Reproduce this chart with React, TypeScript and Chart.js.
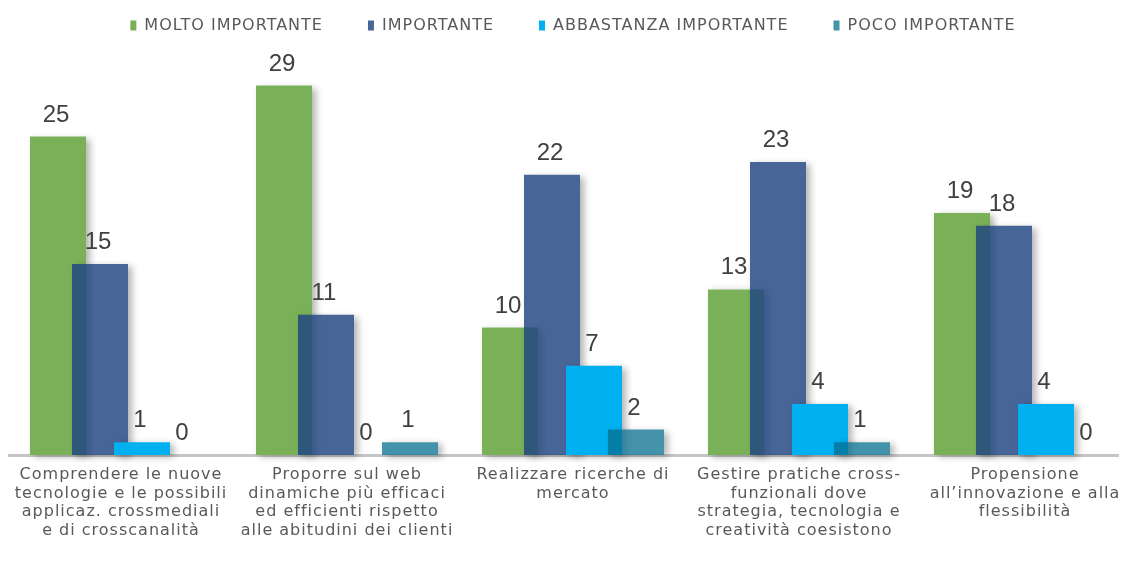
import React, { useEffect, useRef } from "react";
import { Chart, registerables } from "chart.js";

Chart.register(...registerables);

const categories: string[][] = [
  ["Comprendere le nuove", "tecnologie e le possibili", "applicaz. crossmediali", "e di crosscanalità"],
  ["Proporre sul web", "dinamiche più efficaci", "ed efficienti rispetto", "alle abitudini dei clienti"],
  ["Realizzare ricerche di", "mercato"],
  ["Gestire pratiche cross-", "funzionali dove", "strategia, tecnologia e", "creatività coesistono"],
  ["Propensione", "all’innovazione e alla", "flessibilità"],
];

const seriesNames: string[] = ["MOLTO IMPORTANTE", "IMPORTANTE", "ABBASTANZA IMPORTANTE", "POCO IMPORTANTE"];

const moltoImportante: number[] = [25, 29, 10, 13, 19];
const importante: number[] = [15, 11, 22, 23, 18];
const abbastanzaImportante: number[] = [1, 0, 7, 4, 4];
const pocoImportante: number[] = [0, 1, 2, 1, 0];

const seriesColors: string[] = [
  "rgb(122,177,88)",
  "rgba(30,67,128,0.82)",
  "rgb(0,176,240)",
  "rgba(7,109,143,0.75)",
];

const SHIFT = 10000;

const orderAndLabelsPlugin = {
  id: "orderAndLabels",
  beforeLayout(chart: any) {
    (chart.ctx as any).letterSpacing = "1px";
  },
  beforeDraw(chart: any) {
    (chart.ctx as any).letterSpacing = "1px";
  },
  beforeDatasetsDraw(chart: any) {
    const ctx = chart.ctx as CanvasRenderingContext2D;
    const W = chart.width;
    const H = chart.height;
    const n = chart.data.datasets.length;
    for (let i = 0; i < n; i++) {
      const meta = chart.getDatasetMeta(i);
      if (meta.hidden) continue;
      meta.data.forEach((el: any) => {
        const { x, y, base, width } = el.getProps(["x", "y", "base", "width"], true);
        const h = base - y;
        if (h <= 0) return;
        ctx.save();
        ctx.beginPath();
        ctx.rect(0, 0, W, H);
        ctx.rect(x - width / 2, y, width, h);
        ctx.clip("evenodd");
        ctx.fillStyle = "#000";
        ctx.shadowColor = "rgba(0,0,0,0.30)";
        ctx.shadowBlur = 7;
        ctx.shadowOffsetX = SHIFT + 4;
        ctx.shadowOffsetY = 2;
        ctx.fillRect(x - width / 2 - SHIFT, y, width, h);
        ctx.restore();
      });
      meta.controller.draw();
    }
    return false;
  },
  afterDraw(chart: any) {
    const ctx = chart.ctx as CanvasRenderingContext2D;
    ctx.save();
    (ctx as any).letterSpacing = "0px";
    ctx.font = '24px "Liberation Sans"';
    ctx.fillStyle = "#404040";
    ctx.textAlign = "center";
    ctx.textBaseline = "alphabetic";
    chart.data.datasets.forEach((ds: any, i: number) => {
      const meta = chart.getDatasetMeta(i);
      meta.data.forEach((el: any, j: number) => {
        const { x, y } = el.getProps(["x", "y"], true);
        ctx.fillText(String(ds.data[j]), x - 2, y - 15);
      });
    });
    ctx.restore();
  },
};

export default function App() {
  const ref = useRef<HTMLCanvasElement | null>(null);

  useEffect(() => {
    if (!ref.current) return;
    const dataSeries = [moltoImportante, importante, abbastanzaImportante, pocoImportante];
    const chart = new Chart(ref.current, {
      type: "bar",
      data: {
        labels: categories,
        datasets: dataSeries.map((d, i) => ({
          label: seriesNames[i],
          data: d,
          backgroundColor: seriesColors[i],
          borderWidth: 0,
          barPercentage: 4 / 3,
          categoryPercentage: 168 / 226,
        })),
      },
      options: {
        responsive: false,
        animation: false,
        layout: {
          autoPadding: false,
          padding: { top: -35.5, bottom: 10.4, left: 0, right: 0 },
        },
        plugins: {
          tooltip: { enabled: false },
          legend: {
            position: "top",
            align: "center",
            labels: {
              boxWidth: 6,
              boxHeight: 10,
              padding: 45,
              color: "#595959",
              font: { family: "DejaVu Sans", size: 16 },
            },
          },
        },
        scales: {
          x: {
            offset: true,
            z: 1,
            grid: { display: false, drawTicks: false },
            border: { display: true, color: "#C6C6C6", width: 3 },
            ticks: {
              autoSkip: false,
              maxRotation: 0,
              minRotation: 0,
              padding: 11,
              color: "#595959",
              font: { family: "DejaVu Sans", size: 16, lineHeight: 1.15 },
            },
            afterFit(scale: any) {
              scale.paddingLeft = 0;
              scale.paddingRight = 0;
            },
          },
          y: { display: false, min: 0, max: 32.3 },
        },
      },
      plugins: [orderAndLabelsPlugin],
    } as any);
    return () => chart.destroy();
  }, []);

  return (
    <div style={{ width: 1119, height: 553, overflow: "hidden" }}>
      <canvas ref={ref} width={1130} height={553} style={{ display: "block" }} />
    </div>
  );
}
